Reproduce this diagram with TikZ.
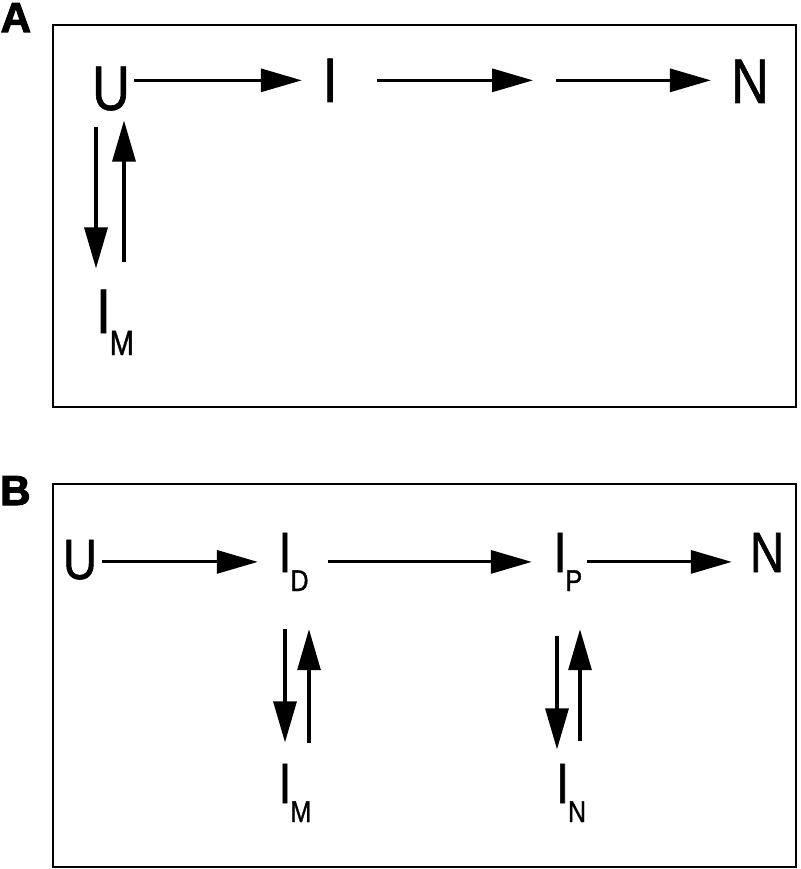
\documentclass[tikz,border=0pt]{standalone}
\usepackage{fontspec}
\setmainfont{Liberation Sans}
\newfontfamily\cond[FakeStretch=0.83,FakeBold=1]{Liberation Sans}
\newfontfamily\heavy[FakeBold=2.5]{Liberation Sans Bold}
\usetikzlibrary{arrows.meta}
\tikzset{
  x=1pt, y=-1pt,
  frame/.style={draw=black, line width=2.6pt},
  panellabel/.style={anchor=base west, inner sep=0pt, font=\heavy\fontsize{42}{42}\selectfont},
  bigA/.style={anchor=base, inner sep=0pt, font=\cond\fontsize{63}{63}\selectfont},
  bigB/.style={anchor=base, inner sep=0pt, font=\cond\fontsize{57}{57}\selectfont},
  arr/.style={line width=3.2pt, -{Triangle[length=41pt,width=23pt]}},
}
\newcommand{\subA}[1]{\rlap{\hspace{-1pt}\raisebox{-22pt}{\fontsize{35}{35}\selectfont #1}}}
\newcommand{\subB}[1]{\rlap{\hspace{-1pt}\raisebox{-19pt}{\fontsize{30}{30}\selectfont #1}}}
\begin{document}
\begin{tikzpicture}
\useasboundingbox (0,0) rectangle (800,869);
% panel frames
\draw[frame] (53,25) rectangle (796,407);
\draw[frame] (53,484) rectangle (796,867);
\node[panellabel] (labA) at (0.5,32) {A};
\node[panellabel] (labB) at (0,505) {B};

% ---------- Panel A ----------
\node[bigA] (UA) at (111,110) {U};
\node[bigA] (IA) at (330,102) {I};
\node[bigA] (NA) at (750,103) {N};
\node[bigA] (IMA) at (103.5,333) {I\subA{M}};
\coordinate (gapA) at (544.5,0);

\draw[arr, shorten <=4pt, shorten >=20.75pt] (UA.east |- IA.center) -- (IA.west);
\draw[arr, shorten <=39.75pt, shorten >=11.5pt] (IA.east) -- (gapA |- IA.center);
\draw[arr, shorten <=11.5pt, shorten >=20pt] (gapA |- IA.center) -- (NA.west |- IA.center);

\coordinate (dA) at ([xshift=-15pt]UA.south);
\coordinate (uA) at ([xshift=13pt]UA.south);
\draw[arr, shorten <=15.7pt, shorten >=21pt] (dA) -- (dA |- IMA.north);
\draw[arr, shorten <=27pt, shorten >=9.7pt] (uA |- IMA.north) -- (uA);

% ---------- Panel B ----------
\node[bigB] (UB) at (80,579) {U};
\node[bigB] (ID) at (285,572) {I\subB{D}};
\node[bigB] (IP) at (560,572) {I\subB{P}};
\node[bigB] (NB) at (767,572) {N};
\node[bigB] (IMB) at (285,803) {I\subB{M}};
\node[bigB] (IN) at (562.5,803) {I\subB{N}};

\draw[arr, shorten <=4.9pt, shorten >=20.4pt] (UB.east |- ID.center) -- (ID.west);
\draw[arr, shorten <=36.4pt, shorten >=21.4pt] (ID.east) -- (IP.west);
\draw[arr, shorten <=20.4pt, shorten >=17.9pt] (IP.east) -- (NB.west |- IP.center);

\coordinate (dB1) at (ID.south);
\coordinate (uB1) at ([xshift=24pt]ID.south);
\draw[arr, shorten <=38pt, shorten >=21.2pt] (dB1) -- (dB1 |- IMB.north);
\draw[arr, shorten <=20.2pt, shorten >=38pt] (uB1 |- IMB.north) -- (uB1);

\coordinate (dB2) at ([xshift=-3pt]IP.south);
\coordinate (uB2) at ([xshift=20pt]IP.south);
\draw[arr, shorten <=45pt, shorten >=14.2pt] (dB2) -- (dB2 |- IN.north);
\draw[arr, shorten <=22.2pt, shorten >=38pt] (uB2 |- IN.north) -- (uB2);
\end{tikzpicture}
\end{document}
